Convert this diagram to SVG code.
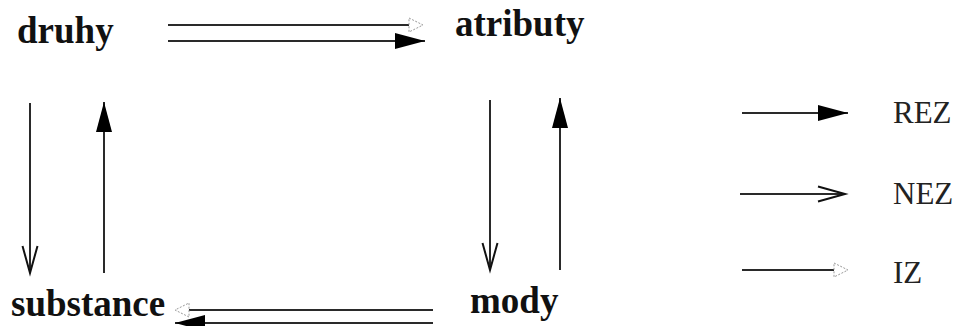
<svg xmlns="http://www.w3.org/2000/svg" width="954" height="326" viewBox="0 0 954 326">
<style>
.n{font-family:"Liberation Serif","Times New Roman",serif;font-weight:bold;font-size:37px;fill:#111}
.l{font-family:"Liberation Serif","Times New Roman",serif;font-size:31px;fill:#222}
.c{stroke:#2a2a2a;stroke-width:2;fill:none}
</style>
<defs>
<marker id="rez" markerUnits="userSpaceOnUse" markerWidth="32" markerHeight="18" refX="30" refY="8" orient="auto" overflow="visible">
<path d="M0,0 L30,8 L0,16 z" fill="#000"/>
</marker>
<marker id="nez" markerUnits="userSpaceOnUse" markerWidth="30" markerHeight="18" refX="27" refY="8" orient="auto" overflow="visible">
<path d="M0,0.5 L27,8 L0,15.5" fill="none" stroke="#111" stroke-width="2"/>
</marker>
<marker id="iz" markerUnits="userSpaceOnUse" markerWidth="18" markerHeight="18" refX="0" refY="8" orient="auto" overflow="visible">
<path d="M0,1 L14,8 L0,15 z" fill="#fff" stroke="#999" stroke-width="1" stroke-dasharray="2,1.5"/>
</marker>
</defs>
<g id="connectors">
<line class="c" x1="168" y1="25" x2="409" y2="25" marker-end="url(#iz)"/>
<line class="c" x1="168" y1="41" x2="425" y2="41" marker-end="url(#rez)"/>
<line class="c" x1="30" y1="103" x2="30" y2="273" marker-end="url(#nez)"/>
<line class="c" x1="104" y1="273" x2="104" y2="102" marker-end="url(#rez)"/>
<line class="c" x1="490" y1="100" x2="490" y2="270" marker-end="url(#nez)"/>
<line class="c" x1="560" y1="270" x2="560" y2="98" marker-end="url(#rez)"/>
<line class="c" x1="433" y1="310" x2="189" y2="310" marker-end="url(#iz)"/>
<line class="c" x1="433" y1="323" x2="175" y2="323" marker-end="url(#rez)"/>
</g>
<g id="druhy"><text class="n" x="17" y="43">druhy</text></g>
<g id="atributy"><text class="n" x="455" y="36">atributy</text></g>
<g id="substance"><text class="n" x="11" y="316">substance</text></g>
<g id="mody"><text class="n" x="470" y="313">mody</text></g>
<g id="legend">
<line class="c" x1="742" y1="113" x2="848" y2="113" marker-end="url(#rez)"/>
<text class="l" x="893" y="123">REZ</text>
<line class="c" x1="740" y1="194" x2="845" y2="194" marker-end="url(#nez)"/>
<text class="l" x="893" y="204">NEZ</text>
<line class="c" x1="742" y1="270" x2="834" y2="270" marker-end="url(#iz)"/>
<text class="l" x="893" y="283">IZ</text>
</g>
</svg>
